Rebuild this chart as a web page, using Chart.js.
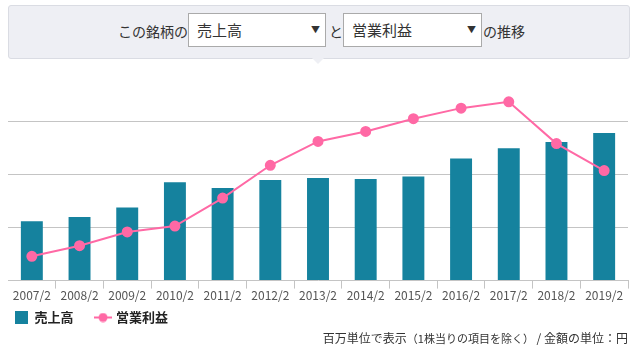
<!DOCTYPE html>
<html lang="ja">
<head>
<meta charset="UTF-8">
<title>売上高と営業利益の推移</title>
<script src="https://cdn.jsdelivr.net/npm/chart.js@4"></script>
<style>
    html, body {
        margin: 0;
        padding: 0;
        width: 637px;
        height: 354px;
        overflow: hidden;
        background: #fff;
        font-family: "Noto Sans CJK JP", "Noto Sans", sans-serif;
        color: #333;
    }
    .picker {
        position: absolute;
        left: 8px;
        top: 5px;
        width: 622px;
        height: 54px;
        box-sizing: border-box;
        background: #eeeff4;
        border: 1px solid #dadce3;
        border-radius: 3px;
        font-size: 14px;
    }
    .picker:after {
        content: "";
        position: absolute;
        left: 303px;
        bottom: -6px;
        width: 0;
        height: 0;
        border-left: 6px solid transparent;
        border-right: 6px solid transparent;
        border-top: 6px solid #eeeff4;
    }
    .picker span.txt {
        position: absolute;
        top: 15px;
        line-height: 20px;
    }
    .sel {
        position: absolute;
        top: 7px;
        height: 34px;
        box-sizing: border-box;
        background: #fff;
        border: 1px solid #aaa;
        font-size: 15px;
        line-height: 32px;
        padding-left: 8px;
    }
    .sel i {
        position: absolute;
        right: 5px;
        top: 0;
        font-style: normal;
        font-size: 9px;
    }
    #wrap {
        position: absolute;
        left: 0;
        top: 60px;
        width: 637px;
        height: 320px;
    }
    .note {
        position: absolute;
        right: 9px;
        top: 329px;
        font-size: 12px;
        color: #333;
        z-index: 2;
    }
    .note small { font-size: 11px; }
</style>
</head>
<body>

<div class="picker">
    <span class="txt" style="left:109px">この銘柄の</span>
    <div class="sel" style="left:179px;width:138px">売上高<i>▼</i></div>
    <span class="txt" style="left:320px">と</span>
    <div class="sel" style="left:334px;width:139px">営業利益<i>▼</i></div>
    <span class="txt" style="left:474px">の推移</span>
</div>

<div id="wrap"><canvas id="chart"></canvas></div>

<div class="note">百万単位で表示<small>（1株当りの項目を除く）</small> / 金額の単位：円</div>

<script>
    // 決算期
    const years = ['2007/2', '2008/2', '2009/2', '2010/2', '2011/2', '2012/2', '2013/2',
        '2014/2', '2015/2', '2016/2', '2017/2', '2018/2', '2019/2'];
    // 売上高
    const sales = [112, 120, 138, 186, 175, 190, 194, 192, 197, 231, 250, 262, 279];
    // 営業利益
    const profit = [46, 66, 92, 103, 156, 218, 263, 282, 306, 326, 338, 259, 208];
    const yTicks = [0, 100, 200, 300, 400];

    const barColor = '#15829e';
    const lineColor = '#ff69a5';

    // legend icons
    function makeRect() {
        const c = document.createElement('canvas');
        c.width = 13; c.height = 13;
        const g = c.getContext('2d');
        g.fillStyle = barColor;
        g.fillRect(0, 0, 13, 13);
        return c;
    }
    function makeLine() {
        const c = document.createElement('canvas');
        c.width = 18; c.height = 10;
        const g = c.getContext('2d');
        g.strokeStyle = lineColor;
        g.lineWidth = 2;
        g.beginPath(); g.moveTo(0, 5); g.lineTo(18, 5); g.stroke();
        g.fillStyle = lineColor;
        g.beginPath(); g.arc(9, 5, 4.5, 0, Math.PI * 2); g.fill();
        return c;
    }
    const icons = [makeRect(), makeLine()];

    // move the legend a bit (labels.padding is also the gap between items)
    const legendShift = {
        id: 'legendShift',
        afterLayout(chart) {
            chart.legend.left -= 16;
            chart.legend.top -= 15;
        }
    };

    new Chart(document.getElementById('chart'), {
        type: 'bar',
        data: {
            labels: years,
            datasets: [{
                type: 'bar',
                label: '売上高',
                data: sales,
                backgroundColor: barColor,
                barPercentage: 0.46,
                categoryPercentage: 1,
                order: 2
            }, {
                type: 'line',
                label: '営業利益',
                data: profit,
                borderColor: lineColor,
                backgroundColor: lineColor,
                borderWidth: 2,
                pointRadius: 4.5,
                pointHoverRadius: 5,
                tension: 0,
                order: 1
            }]
        },
        options: {
            responsive: true,
            maintainAspectRatio: false,
            animation: false,
            layout: { padding: { left: 8, right: 9, top: 9, bottom: 31 } },
            plugins: {
                legend: {
                    position: 'bottom',
                    align: 'start',
                    labels: {
                        usePointStyle: true,
                        boxHeight: 13,
                        padding: 23,
                        color: '#222',
                        font: { family: '"Noto Sans CJK JP"', size: 13, weight: 'bold' },
                        generateLabels(chart) {
                            const items = Chart.defaults.plugins.legend.labels.generateLabels(chart);
                            items.sort((a, b) => a.datasetIndex - b.datasetIndex);
                            items.forEach(it => { it.pointStyle = icons[it.datasetIndex]; });
                            return items;
                        }
                    }
                },
                tooltip: { enabled: false }
            },
            scales: {
                x: {
                    grid: {
                        offset: true,
                        drawOnChartArea: false,
                        tickLength: 8,
                        color: ctx => (ctx.index === 0 || ctx.index === years.length) ? 'rgba(0,0,0,0)' : '#c4c4c4'
                    },
                    border: { color: '#c4c4c4' },
                    ticks: {
                        color: '#555',
                        padding: 0,
                        maxRotation: 0,
                        autoSkip: false,
                        font: { family: '"Noto Sans CJK JP"', size: 12 }
                    }
                },
                y: {
                    min: yTicks[0],
                    max: yTicks[yTicks.length - 1],
                    afterBuildTicks: s => { s.ticks = yTicks.map(v => ({ value: v })); },
                    ticks: { display: false },
                    border: { display: false },
                    grid: {
                        drawTicks: false,
                        color: ctx => (ctx.tick.value === 0 || ctx.tick.value === 400) ? 'rgba(0,0,0,0)' : '#c4c4c4'
                    }
                }
            }
        },
        plugins: [legendShift]
    });
</script>
</body>
</html>
